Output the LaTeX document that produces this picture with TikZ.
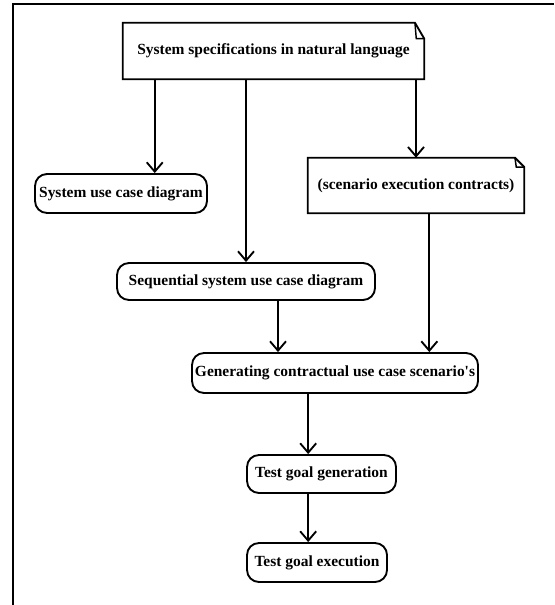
\documentclass[tikz,border=0pt]{standalone}
\usepackage{fontspec}
\setmainfont{Liberation Serif}
\usepackage{tikz}
\usetikzlibrary{arrows.meta,positioning,calc}

\begin{document}
\begin{tikzpicture}[
    x=0.75pt, y=-0.75pt,
    activity/.style={draw, line width=1.4pt, rounded corners=9pt, font=\fontsize{11.6}{14}\selectfont\bfseries, align=center, inner sep=2pt},
    notebox/.style={font=\fontsize{11.6}{14}\selectfont\bfseries, align=center, inner sep=2pt},
    arr/.style={-{Straight Barb[length=7pt,width=12pt,line width=1.4pt]}, line width=1.4pt},
    frame/.style={line width=1.6pt}
  ]
    \useasboundingbox (0,0) rectangle (554,605);
    \draw[frame] (13,605) -- (13,4) -- (554,4);

    % notes
    \node[notebox, minimum width=225.75pt, minimum height=42pt] (spec) at (273.5,51) {System specifications in natural language};
    \node[notebox, minimum width=162pt, minimum height=41.25pt] (contr) at (416,185.5) {(scenario execution contracts)};
    \foreach \n/\e in {spec/12pt,contr/7pt} {
      \draw[line width=1.4pt] (\n.south west) -- (\n.south east) -- ([yshift=-\e]\n.north east)
        -- ([xshift=-7pt]\n.north east) -- (\n.north west) -- cycle;
      \draw[line width=1.1pt] ([xshift=-7pt]\n.north east) -- ([xshift=-6pt,yshift=-\e]\n.north east) -- ([yshift=-\e]\n.north east);
    }

    % activities
    \node[activity, minimum width=129pt, minimum height=29.25pt] (sysuc) at (121,193.5) {System use case diagram};
    \node[activity, minimum width=193.5pt, minimum height=27.75pt] (sequ) at (246,281.5) {Sequential system use case diagram};
    \node[activity, minimum width=214.5pt, minimum height=30pt] (gen) at (335,373) {Generating contractual use case scenario\textquotesingle s};
    \node[activity, minimum width=111.75pt, minimum height=28.5pt] (tgen) at (321.5,474) {Test goal generation};
    \node[activity, minimum width=105pt, minimum height=29.25pt] (texec) at (317,562.5) {Test goal execution};

    \draw[arr] ([xshift=24pt]spec.south west) -- ([xshift=24pt]spec.south west |- sysuc.north);
    \draw[arr] (spec.south -| sequ.north) -- (sequ.north);
    \draw[arr] (spec.south -| contr.north) -- (contr.north);
    \draw[arr] ([xshift=24pt]sequ.south) -- ([xshift=24pt]sequ.south |- gen.north);
    \draw[arr] ([xshift=10pt]contr.south) -- ([xshift=10pt]contr.south |- gen.north);
    \draw[arr] ([xshift=-10pt]tgen.north |- gen.south) -- ([xshift=-10pt]tgen.north);
    \draw[arr] ([xshift=-10pt]tgen.south) -- ([xshift=-10pt]tgen.south |- texec.north);
  \end{tikzpicture}
\end{document}
